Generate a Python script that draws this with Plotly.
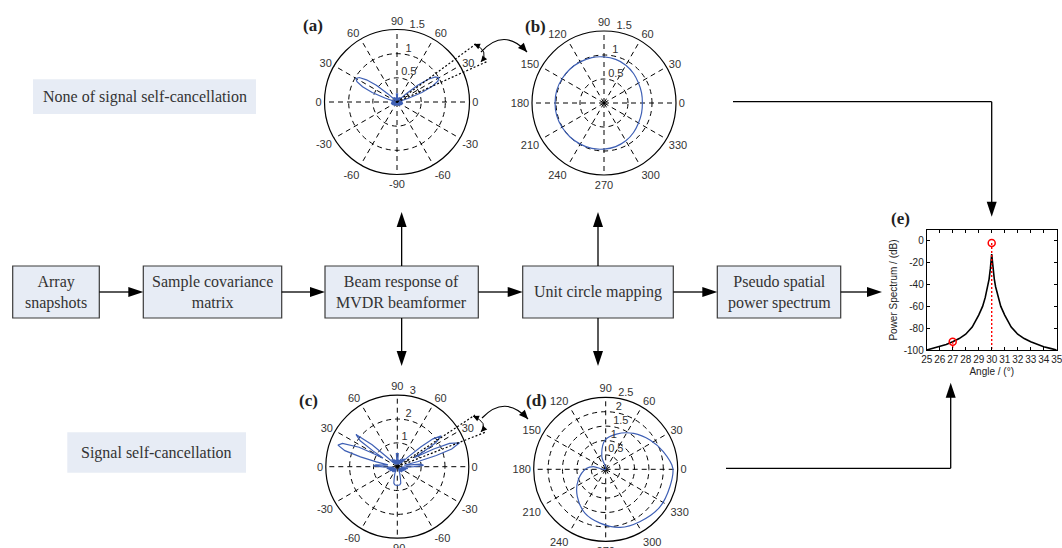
import math
import plotly.graph_objects as go

W, H = 1062, 548

# ---------------- data ----------------
# (a) MVDR beam response, no self-cancellation  (theta deg, magnitude)
pattern_a = [(0, 0.04), (4, 0.11), (8, 0.03), (12, 0.12), (15, 0.05), (18, 0.25), (21, 0.55), (24, 0.80),
             (27, 0.95), (30, 1.00), (33, 0.95), (36, 0.80), (39, 0.55), (42, 0.25), (45, 0.05), (48, 0.12),
             (52, 0.03), (56, 0.11), (60, 0.03), (65, 0.10), (70, 0.03), (75, 0.09), (80, 0.04), (84, 0.05),
             (86, 0.17), (90, 0.17), (94, 0.17), (96, 0.05), (100, 0.04), (105, 0.09), (110, 0.03), (115, 0.10),
             (120, 0.03), (124, 0.11), (128, 0.03), (132, 0.12), (135, 0.05), (138, 0.25), (141, 0.55),
             (144, 0.78), (147, 0.93), (150, 0.98), (153, 0.93), (156, 0.78), (159, 0.55), (162, 0.25),
             (165, 0.05), (168, 0.12), (172, 0.03), (176, 0.11), (180, 0.04), (185, 0.12), (190, 0.03),
             (195, 0.13), (200, 0.03), (205, 0.12), (210, 0.04), (215, 0.11), (220, 0.03), (225, 0.10),
             (230, 0.03), (235, 0.09), (240, 0.03), (245, 0.08), (250, 0.03), (255, 0.07), (260, 0.02),
             (265, 0.06), (270, 0.05), (275, 0.06), (280, 0.02), (285, 0.07), (290, 0.03), (295, 0.08),
             (300, 0.03), (305, 0.09), (310, 0.03), (315, 0.10), (320, 0.03), (325, 0.11), (330, 0.04),
             (335, 0.12), (340, 0.03), (345, 0.13), (350, 0.03), (355, 0.12), (360, 0.04)]
theta_a = [p[0] for p in pattern_a]
r_a = [p[1] for p in pattern_a]

# (b) unit circle mapping, no self-cancellation
pattern_b = [(0, 0.80), (15, 0.81), (30, 0.83), (45, 0.87), (60, 0.91), (75, 0.94), (90, 0.96), (105, 0.98),
             (120, 0.99), (135, 1.00), (150, 1.01), (165, 1.02), (180, 1.02), (195, 1.02), (210, 1.01),
             (225, 1.00), (240, 0.99), (255, 0.98), (270, 0.96), (285, 0.94), (300, 0.91), (315, 0.87),
             (330, 0.83), (345, 0.81), (360, 0.80)]
theta_b = [p[0] for p in pattern_b]
r_b = [p[1] for p in pattern_b]

# (c) MVDR beam response, with self-cancellation
pattern_c = [(0, 0.7), (3, 1.1), (6, 1.0), (9, 0.4), (12, 0.3), (14, 0.9), (16, 1.7), (18, 2.4), (21, 2.8),
             (24, 2.4), (26, 1.7), (28, 0.8), (30, 1.3), (32, 1.9), (35, 2.25), (38, 1.9), (40, 1.3), (42, 0.6),
             (44, 0.2), (48, 0.45), (52, 0.15), (56, 0.4), (60, 0.12), (65, 0.35), (70, 0.1), (75, 0.3),
             (80, 0.1), (84, 0.15), (86, 0.55), (90, 0.55), (94, 0.55), (96, 0.15), (100, 0.1), (105, 0.3),
             (110, 0.1), (115, 0.35), (120, 0.12), (125, 0.4), (130, 0.15), (134, 0.2), (137, 0.6), (139, 1.4),
             (142, 2.2), (145, 1.9), (147, 1.2), (149, 0.7), (151, 1.1), (153, 1.8), (157, 2.5), (160, 2.65),
             (163, 2.3), (165, 1.6), (167, 0.9), (169, 0.4), (172, 0.5), (175, 0.9), (178, 1.0), (181, 0.6),
             (185, 0.2), (190, 0.45), (195, 0.15), (200, 0.4), (205, 0.15), (210, 0.35), (215, 0.1), (220, 0.3),
             (225, 0.1), (230, 0.3), (235, 0.1), (240, 0.25), (245, 0.1), (250, 0.3), (255, 0.5), (258, 0.7),
             (262, 0.77), (266, 0.78), (270, 0.78), (274, 0.78), (278, 0.77), (282, 0.7), (285, 0.5), (290, 0.3),
             (295, 0.1), (300, 0.25), (305, 0.1), (310, 0.3), (315, 0.1), (320, 0.3), (325, 0.1), (330, 0.35),
             (335, 0.15), (340, 0.4), (345, 0.15), (350, 0.45), (355, 0.2), (360, 0.7)]
theta_c = [p[0] for p in pattern_c]
r_c = [p[1] for p in pattern_c]

# (d) unit circle mapping, with self-cancellation
pattern_d = [(112, 0.0), (107, 0.46), (91, 1.02), (73, 1.28), (52, 1.58), (33, 1.85), (17, 2.09), (1, 2.33),
             (345, 2.31), (325, 2.29), (303, 2.17), (284, 2.08), (264, 1.88), (245, 1.69), (224, 1.37),
             (201, 1.02), (177, 0.66), (168, 0.44), (170, 0.0)]
theta_d = [p[0] for p in pattern_d]
r_d = [p[1] for p in pattern_d]

# (e) pseudo spatial power spectrum
angle_e = [25, 25.5, 26, 26.5, 27, 27.5, 28, 28.5, 29, 29.3, 29.5, 29.7, 29.8, 29.9, 29.95, 30,
           30.05, 30.1, 30.2, 30.3, 30.5, 30.7, 31, 31.5, 32, 32.5, 33, 33.5, 34, 34.5, 35]
power_e = [-100, -98.5, -97, -95, -92.5, -89.5, -85.5, -79, -68, -60, -52, -42, -35, -25, -18, -12,
           -18, -25, -35, -42, -52, -60, -68, -79, -85.5, -89.5, -92.5, -95, -97, -98.5, -100]
peak_angles = [27, 30]
peak_values = [-92.5, -2]
e_xticks = [25, 26, 27, 28, 29, 30, 31, 32, 33, 34, 35]
e_yticks = [-100, -80, -60, -40, -20, 0]
e_yticktext = ["-100", "-80", "-60", "-40", "-20", "0"]

# polar tick labels
ang_vals = [0, 30, 60, 90, 120, 150, 180, 210, 240, 270, 300, 330]
ang_text_sym = ["0", "30", "60", "90", "60", "30", "0", "-30", "-60", "-90", "-60", "-30"]
ang_text_full = [str(v) for v in ang_vals]
rticks_a = [0.5, 1, 1.5]
rticks_b = [0.5, 1, 1.5]
rticks_c = [1, 2, 3]
rticks_d = [0.5, 1, 1.5, 2, 2.5]

# block diagram texts
blocks = ["Array<br>snapshots", "Sample covariance<br>matrix", "Beam response of<br>MVDR beamformer",
          "Unit circle mapping", "Pseudo spatial<br>power spectrum"]
captions = ["None of signal self-cancellation", "Signal self-cancellation"]

# ---------------- helpers ----------------
def X(x):
    return x / W


def Y(y):
    return 1 - y / H


shapes = []
annots = []
SANS = "Liberation Sans"
SERIF = "Liberation Serif"
BLUE = "#3f60b5"
GREY = "rgb(51,51,51)"


def seg(x0, y0, x1, y1, dash="solid", w=1.3, color="black"):
    shapes.append(dict(type="line", xref="paper", yref="paper", x0=X(x0), y0=Y(y0), x1=X(x1), y1=Y(y1),
                       line=dict(color=color, width=w, dash=dash)))


def head(tx, ty, ux, uy, L=15, Wd=5):
    n = math.hypot(ux, uy)
    ux, uy = ux / n, uy / n
    bx, by = tx - L * ux, ty - L * uy
    qx, qy = -uy, ux
    p = (f"M {X(tx)},{Y(ty)} L {X(bx + Wd * qx)},{Y(by + Wd * qy)} "
         f"L {X(bx - Wd * qx)},{Y(by - Wd * qy)} Z")
    shapes.append(dict(type="path", xref="paper", yref="paper", path=p, fillcolor="black",
                       line=dict(width=0)))


def arrow(x0, y0, x1, y1, L=15, Wd=5):
    ux, uy = x1 - x0, y1 - y0
    n = math.hypot(ux, uy)
    seg(x0, y0, x1 - (L - 2) * ux / n, y1 - (L - 2) * uy / n)
    head(x1, y1, ux, uy, L, Wd)


def curve(x0, y0, cx, cy, x1, y1, w=1.2, dash="solid"):
    p = f"M {X(x0)},{Y(y0)} Q {X(cx)},{Y(cy)} {X(x1)},{Y(y1)}"
    shapes.append(dict(type="path", xref="paper", yref="paper", path=p,
                       line=dict(color="black", width=w, dash=dash)))


def text(x, y, s, size=16, font=SERIF, color="#333", xanchor="center"):
    annots.append(dict(x=X(x), y=Y(y), xref="paper", yref="paper", text=s, showarrow=False,
                       xanchor=xanchor, yanchor="middle", font=dict(family=font, size=size, color=color)))


# ---------------- figure ----------------
fig = go.Figure()

polars = [
    ("polar", (397, 102, 72.5), 1.5, rticks_a, ang_text_sym, theta_a, r_a, "linear"),
    ("polar2", (604, 103, 72), 1.5, rticks_b, ang_text_full, theta_b, r_b, "spline"),
    ("polar3", (397.3, 466.7, 71.5), 3, rticks_c, ang_text_sym, theta_c, r_c, "linear"),
    ("polar4", (605.7, 469.3, 72), 2.5, rticks_d, ang_text_full, theta_d, r_d, "spline"),
]

layout_polars = {}
for key, (cx, cy, R), rmax, rt, atext, th, rr, shape in polars:
    layout_polars[key] = dict(
        domain=dict(x=[(cx - R) / W, (cx + R) / W], y=[1 - (cy + R) / H, 1 - (cy - R) / H]),
        bgcolor="white",
        angularaxis=dict(rotation=0, direction="counterclockwise", tickmode="array", tickvals=ang_vals,
                         ticktext=atext, ticks="", showgrid=True, gridcolor="black", gridwidth=0.8,
                         griddash="5px,4px", showline=True, linecolor="black", linewidth=1.2,
                         tickfont=dict(family=SANS, size=11, color=GREY)),
        radialaxis=dict(range=[0, rmax], tickmode="array", tickvals=[v for v in rt if v < rmax],
                        showticklabels=False, ticks="", showline=False, showgrid=True, gridcolor="black",
                        gridwidth=0.8, griddash="5px,4px", angle=80),
    )
    fig.add_trace(go.Scatterpolar(r=rr, theta=th, mode="lines", subplot=key,
                                  line=dict(color=BLUE, width=1.2, shape=shape),
                                  hoverinfo="skip", showlegend=False))
    fig.add_trace(go.Scatterpolar(r=rt, theta=[80] * len(rt), mode="text", subplot=key,
                                  text=[("%g" % v) for v in rt], textposition="top right",
                                  textfont=dict(family=SANS, size=11, color=GREY),
                                  cliponaxis=False, hoverinfo="skip", showlegend=False))

# (e) spectrum
fig.add_trace(go.Scatter(x=angle_e, y=power_e, mode="lines", line=dict(color="black", width=1.6),
                         hoverinfo="skip", showlegend=False))
stem_x, stem_y = [], []
for a, v in zip(peak_angles, peak_values):
    stem_x += [a, a, None]
    stem_y += [v, -100, None]
fig.add_trace(go.Scatter(x=stem_x, y=stem_y, mode="lines", line=dict(color="red", width=1.4, dash="2px,2px"),
                         hoverinfo="skip", showlegend=False))
fig.add_trace(go.Scatter(x=peak_angles, y=peak_values, mode="markers",
                         marker=dict(symbol="circle-open", color="red", size=7, line=dict(width=1.5)),
                         cliponaxis=False, hoverinfo="skip", showlegend=False))

ex0, ex1, ey0, ey1 = 926.7, 1056.7, 230, 350
axis_common = dict(showgrid=False, zeroline=False, showline=True, mirror="ticks", linecolor="black",
                   linewidth=1, ticks="inside", ticklen=3, tickcolor="black", automargin=False,
                   tickangle=0, ticklabeloverflow="allow",
                   tickfont=dict(family=SANS, size=10, color="#222"))
xaxis = dict(axis_common, domain=[ex0 / W, ex1 / W], range=[25, 35], tickmode="array", tickvals=e_xticks,
             title=dict(text="Angle / (°)", font=dict(family=SANS, size=10, color="#222"), standoff=3))
yaxis = dict(axis_common, domain=[1 - ey1 / H, 1 - ey0 / H], range=[-100, 10], tickmode="array",
             tickvals=e_yticks, ticktext=e_yticktext,
             title=dict(text="Power Spectrum / (dB)", font=dict(family=SANS, size=10, color="#222"), standoff=4))

# ---------------- block diagram ----------------
box_x = [(12.7, 99.3), (143.3, 281.7), (325, 478.3), (522.7, 673.3), (717.3, 840.7)]
by0, by1 = 266, 318
for (x0, x1), label in zip(box_x, blocks):
    shapes.append(dict(type="rect", xref="paper", yref="paper", x0=X(x0), x1=X(x1), y0=Y(by1), y1=Y(by0),
                       fillcolor="#e7ecf5", line=dict(color="#3a3a3a", width=1.2)))
    text((x0 + x1) / 2, (by0 + by1) / 2, label)

ymid = 292
for i in range(4):
    arrow(box_x[i][1], ymid, box_x[i + 1][0], ymid)
arrow(box_x[4][1], ymid, 882, ymid)

for (x0, x1) in (box_x[2], box_x[3]):
    xc = (x0 + x1) / 2
    arrow(xc, by0, xc, 212)
    arrow(xc, by1, xc, 366)

# to (e)
seg(733, 101.7, 991.7, 101.7)
arrow(991.7, 101.7, 991.7, 216.7)
seg(726, 468.3, 950.7, 468.3)
arrow(950.7, 468.3, 950.7, 382.7)

# caption boxes
shapes.append(dict(type="rect", xref="paper", yref="paper", x0=X(33), x1=X(256), y0=Y(114), y1=Y(79.3),
                   fillcolor="#e7ecf5", line=dict(width=0)))
text(144.5, 97, captions[0])
shapes.append(dict(type="rect", xref="paper", yref="paper", x0=X(67.3), x1=X(246), y0=Y(472.7), y1=Y(432.3),
                   fillcolor="#e7ecf5", line=dict(width=0)))
text(156.6, 452.5, captions[1])

# dotted beam-width lines and arcs
for (cx, cy), ends, arc, big in [
    ((397, 102), [(476.7, 43.3), (486.7, 61.7)], (474, 44, 490, 51, 481, 62), (481, 52, 504, 27, 527, 52)),
    ((397.3, 466.7), [(475, 415), (486.7, 431.7)], (473, 416, 489, 423, 481, 432), (482, 418, 505, 394, 528, 419)),
]:
    for ex, ey in ends:
        seg(cx, cy, ex, ey, dash="2px,2px", w=1.2)
    ax0, ay0, acx, acy, ax1, ay1 = arc
    curve(ax0, ay0, acx, acy, ax1, ay1, w=1.0)
    head(ax0, ay0, ax0 - acx, ay0 - acy, L=6, Wd=3)
    head(ax1, ay1, ax1 - acx, ay1 - acy, L=6, Wd=3)
    bx0, by0_, bcx, bcy, bx1, by1_ = big
    curve(bx0, by0_, bcx, bcy, bx1, by1_, w=1.2)
    head(bx1, by1_, bx1 - bcx, by1_ - bcy, L=9, Wd=4)

# panel labels
for lab, (lx, ly) in zip(["(a)", "(b)", "(c)", "(d)", "(e)"],
                         [(313.3, 25), (535, 26.7), (308.3, 400), (536.7, 400), (900, 218)]):
    text(lx, ly, "<b>%s</b>" % lab, size=17, color="#222")

fig.update_layout(
    width=W, height=H, margin=dict(l=0, r=0, t=0, b=0, pad=0, autoexpand=False),
    paper_bgcolor="white", plot_bgcolor="white", showlegend=False,
    xaxis=xaxis, yaxis=yaxis, shapes=shapes, annotations=annots,
    **layout_polars,
)

fig.write_html("out.html", config={"displayModeBar": False},
               post_script="document.body.style.margin='0';document.body.style.overflow='hidden';")
